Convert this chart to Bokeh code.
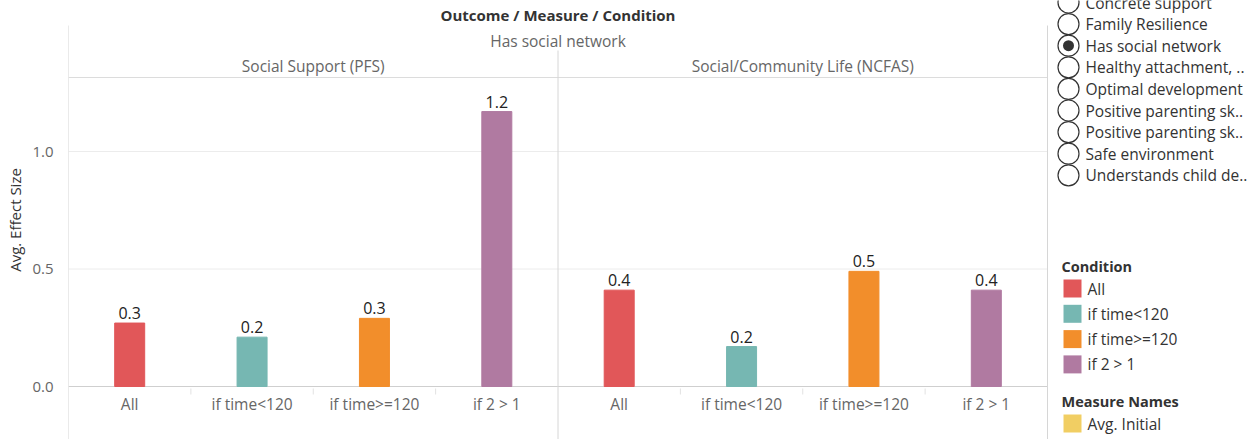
from bokeh.plotting import figure
from bokeh.models import Range1d, FixedTicker, ColumnDataSource, NumeralTickFormatter
from bokeh.core.properties import value
from bokeh.embed import file_html
from bokeh.resources import INLINE

# ---------------- data ----------------
chart_title = "Outcome / Measure / Condition"
outcome = "Has social network"
measures = ["Social Support (PFS)", "Social/Community Life (NCFAS)"]
conditions = ["All", "if time<120", "if time>=120", "if 2 > 1"]
pfs_values = [0.27, 0.21, 0.29, 1.17]
ncfas_values = [0.41, 0.17, 0.49, 0.41]
condition_colors = ["#E15759", "#76B7B2", "#F28E2B", "#B07AA1"]
outcome_options = ["Concrete support", "Family Resilience", "Has social network",
                   "Healthy attachment, ..", "Optimal development",
                   "Positive parenting sk..", "Positive parenting sk..",
                   "Safe environment", "Understands child de.."]
measure_names = ["Avg. Initial"]
measure_name_colors = ["#F1CE63"]
y_ticks = [0.0, 0.5, 1.0]

# ---------------- layout helpers (page pixel -> data) ----------------
W, H = 1255, 439
LEFT = 68        # frame left edge (page px)
PX_X = 122.375   # pixels per category slot
PX_Y = 235.0     # pixels per 1.0 effect size
FONT = value("Open Sans")
FS = "15.5px"


def dx(page_x):
    return (page_x - LEFT) / PX_X


def dy(page_y):
    return (386 - page_y) / PX_Y


p = figure(width=W, height=H, output_backend="svg", toolbar_location=None,
           x_range=Range1d(0, dx(W)), y_range=Range1d(dy(H), dy(0)),
           x_axis_location=None, min_border=0, min_border_left=LEFT)
p.outline_line_color = None
p.xgrid.visible = False
p.ygrid.visible = False

# y axis
ax = p.yaxis[0]
ax.ticker = FixedTicker(ticks=y_ticks)
ax.formatter = NumeralTickFormatter(format="0.0")
ax.axis_label = "Avg. Effect Size"
ax.axis_label_text_font = "Open Sans"
ax.axis_label_text_font_size = "15px"
ax.axis_label_text_font_style = "normal"
ax.axis_label_text_color = "#333333"
ax.axis_label_standoff = 4
ax.major_label_text_font = "Open Sans"
ax.major_label_text_font_size = "15px"
ax.major_label_text_color = "#666666"
ax.major_label_standoff = 9
ax.axis_line_color = None
ax.major_tick_line_color = None
ax.minor_tick_line_color = None

n = len(conditions)
xl, xr = dx(68), dx(1047)

# gridlines
p.segment(x0=[xl] * 2, x1=[xr] * 2, y0=y_ticks[1:], y1=y_ticks[1:], line_color="#ececec", line_width=1)
p.segment(x0=[xl], x1=[xr], y0=[0], y1=[0], line_color="#cfcfcf", line_width=1)
# header line
p.segment(x0=[xl], x1=[xr], y0=[dy(77)], y1=[dy(77)], line_color="#dcdcdc", line_width=1)
# vertical borders
p.segment(x0=[0, 2 * n, n], x1=[0, 2 * n, n], y0=[dy(25), dy(25), dy(50)], y1=[dy(H)] * 3,
          line_color="#d6d6d6", line_width=1)
# ticks between categories
bx = [m * n + i for m in range(len(measures)) for i in range(1, n)]
p.segment(x0=bx, x1=bx, y0=[dy(388)] * len(bx), y1=[dy(394)] * len(bx), line_color="#e2e2e2")

# bars
xs, tops, cols, cats = [], [], [], []
for m, vals in enumerate([pfs_values, ncfas_values]):
    for i, v in enumerate(vals):
        xs.append(m * n + i + 0.5)
        tops.append(v)
        cols.append(condition_colors[i])
        cats.append(conditions[i])
src = ColumnDataSource(dict(x=xs, top=tops, color=cols, cat=cats,
                            lab=[f"{v:.1f}" for v in tops]))
p.vbar(x="x", top="top", bottom=0, width=30 / PX_X, color="color", source=src)
p.text(x="x", y="top", text="lab", source=src, text_font=FONT, text_font_size="16px",
       text_color="#222222", text_align="center", text_baseline="bottom", y_offset=-4)

# category labels
p.text(x="x", y=dy(403), text="cat", source=src, text_font=FONT,
       text_font_size=FS, text_color="#666666", text_align="center", text_baseline="middle")

# headers
p.text(x=[n], y=[dy(14)], text=[chart_title], text_font=FONT, text_font_size="15px",
       text_font_style="bold", text_color="#333333", text_align="center", text_baseline="middle")
p.text(x=[n], y=[dy(40)], text=[outcome], text_font=FONT, text_font_size=FS,
       text_color="#666666", text_align="center", text_baseline="middle")
p.text(x=[m * n + n / 2 for m in range(len(measures))], y=[dy(65)] * len(measures), text=measures,
       text_font=FONT, text_font_size=FS, text_color="#666666", text_align="center",
       text_baseline="middle")

# outcome radio list
ry = [dy(2 + 21.6 * i) for i in range(len(outcome_options))]
p.scatter(x=[dx(1068)] * len(ry), y=ry, marker="circle", size=21, fill_color="white",
          line_color="#333333", line_width=1.2)
sel = outcome_options.index(outcome)
p.scatter(x=[dx(1068)], y=[ry[sel]], marker="circle", size=11, fill_color="#333333", line_color=None)
p.text(x=[dx(1085)] * len(ry), y=ry, text=outcome_options, text_font=FONT, text_font_size=FS,
       text_color="#333333", text_align="left", text_baseline="middle")

# condition legend
p.text(x=[dx(1061)], y=[dy(266)], text=["Condition"], text_font=FONT, text_font_size="14.5px",
       text_font_style="bold", text_color="#333333", text_align="left", text_baseline="middle")
ly = [dy(288 + 25.3 * i) for i in range(n)]
p.scatter(x=[dx(1072)] * n, y=ly, marker="square", size=18, fill_color=condition_colors, line_color=None)
p.text(x=[dx(1087)] * n, y=ly, text=conditions, text_font=FONT, text_font_size=FS,
       text_color="#333333", text_align="left", text_baseline="middle")

# measure names legend
p.text(x=[dx(1061)], y=[dy(401)], text=["Measure Names"], text_font=FONT, text_font_size="14.5px",
       text_font_style="bold", text_color="#333333", text_align="left", text_baseline="middle")
my = [dy(423 + 25.3 * i) for i in range(len(measure_names))]
p.scatter(x=[dx(1072)] * len(my), y=my, marker="square", size=18, fill_color=measure_name_colors,
          line_color=None)
p.text(x=[dx(1087)] * len(my), y=my, text=measure_names, text_font=FONT, text_font_size=FS,
       text_color="#333333", text_align="left", text_baseline="middle")

open("out.html", "w").write(file_html(p, INLINE))
